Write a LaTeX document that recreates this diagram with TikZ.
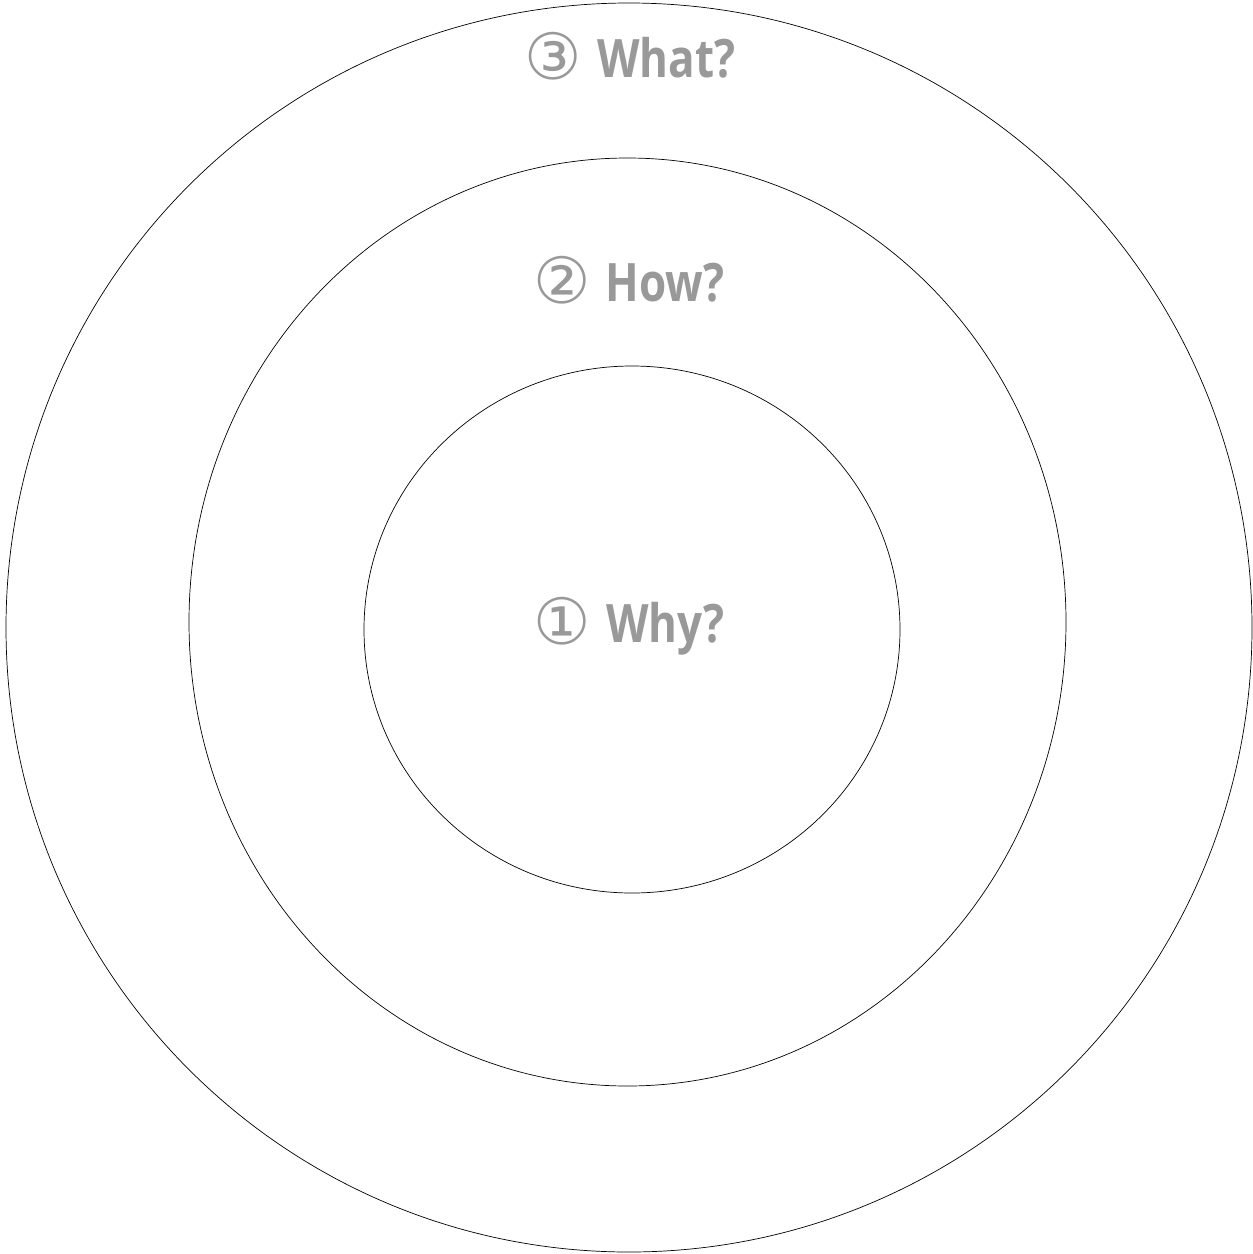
\documentclass[tikz,border=0pt]{standalone}
\usepackage{fontspec}
\setmainfont{Open Sans}
\newfontfamily\circfont{DejaVu Sans}
\usetikzlibrary{shapes.geometric}
\newcommand\ringword[1]{\scalebox{0.83}[1]{#1}}
\newcommand\ringnum[1]{\raisebox{-2pt}{\circfont\mdseries\fontsize{64}{70}\selectfont #1}}

\begin{document}
\begin{tikzpicture}[
  x=1pt, y=-1pt,
  ring/.style={draw, ellipse, line width=0.7pt, inner sep=0pt},
  lab/.style={anchor=base, text=black!40, font=\fontsize{53}{58}\selectfont\bfseries, inner sep=0pt},
]
\useasboundingbox (0,0) rectangle (1253,1254);
% three rings, outer to inner
\node[ring, minimum width=1246pt, minimum height=1249pt] (whatring) at (629,627.5) {};
\node[ring, minimum width=877pt, minimum height=928pt] (howring) at (627.5,622) {};
\node[ring, minimum width=536pt, minimum height=527pt] (whyring) at (632,629.5) {};
% labels
\node[lab] (what) at (630,77) {\ringnum{③}\hspace{15pt}\ringword{What?}};
\node[lab] (how) at (629,301) {\ringnum{②}\hspace{15pt}\ringword{How?}};
\node[lab] (why) at (629,642) {\ringnum{①}\hspace{15pt}\ringword{Why?}};
\end{tikzpicture}
\end{document}
